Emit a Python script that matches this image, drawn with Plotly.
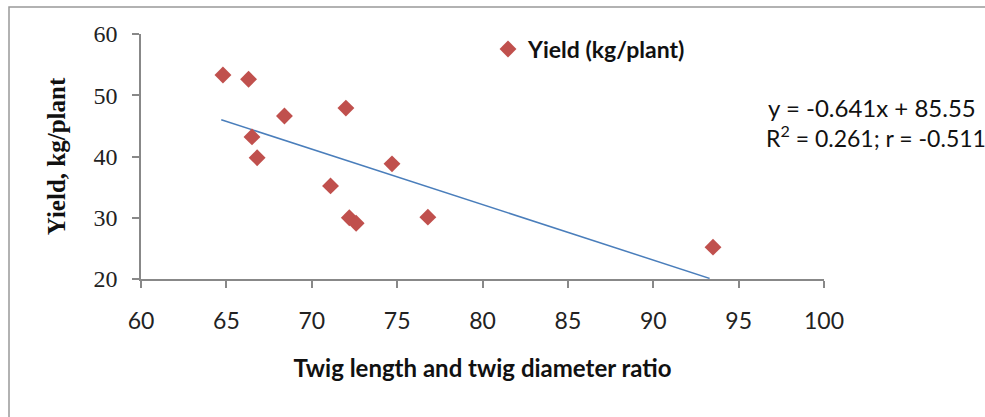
import plotly.graph_objects as go

# Data
ratio = [64.8, 66.3, 66.5, 66.8, 68.4, 72.0, 71.1, 72.2, 72.6, 74.7, 76.8, 93.5]
yield_kg = [53.3, 52.6, 43.2, 39.8, 46.6, 47.9, 35.2, 30.0, 29.1, 38.8, 30.1, 25.2]
trend_x = [64.7, 93.3]
trend_y = [46.0, 20.1]
x_ticks = [60, 65, 70, 75, 80, 85, 90, 95, 100]
y_ticks = [20, 30, 40, 50, 60]

W, H = 985, 417
L, T = 141, 34
pw, ph = 683, 245
R, B = W - L - pw, H - T - ph

def px_x(p):
    return (p - L) / pw

def px_y(p):
    return (T + ph - p) / ph

fig = go.Figure()
fig.add_trace(go.Scatter(
    x=trend_x, y=trend_y, mode="lines",
    line=dict(color="#4a7ebb", width=1.5),
    showlegend=False, hoverinfo="skip"))
fig.add_trace(go.Scatter(
    x=ratio, y=yield_kg, mode="markers", name="<b>Yield (kg/plant)</b>",
    marker=dict(symbol="diamond", size=13, color="#c0504d")))

axis_col = "#888888"
fig.update_layout(
    width=W, height=H,
    margin=dict(l=L, r=R, t=T, b=B, pad=0, autoexpand=False),
    paper_bgcolor="white", plot_bgcolor="white",
    xaxis=dict(range=[60, 100], tickvals=x_ticks, showgrid=False, zeroline=False,
               showline=True, linecolor=axis_col, linewidth=1.5, automargin=False,
               ticks="outside", ticklen=7, tickcolor=axis_col, tickwidth=1.5,
               ticklabelstandoff=14,
               tickfont=dict(family="Lato", size=23, color="#222222"),
               title=dict(text="<b>Twig length and twig diameter ratio</b>",
                          font=dict(family="Lato", size=24, color="#111111"),
                          standoff=27)),
    yaxis=dict(range=[20, 60], tickvals=y_ticks, showgrid=False, zeroline=False,
               showline=True, linecolor=axis_col, linewidth=1.5, automargin=False,
               ticks="outside", ticklen=7, tickcolor=axis_col, tickwidth=1.5,
               ticklabelstandoff=10,
               tickfont=dict(family="Liberation Serif", size=24, color="#222222"),
               title=dict(text="<b>Yield, kg/plant</b>",
                          font=dict(family="Liberation Serif", size=25, color="#111111"),
                          standoff=21)),
    legend=dict(x=px_x(488), y=px_y(49), xanchor="left", yanchor="middle",
                font=dict(family="Lato", size=23, color="#111111"),
                bgcolor="rgba(0,0,0,0)", itemwidth=30),
    shapes=[dict(type="rect", xref="paper", yref="paper",
                 x0=px_x(9), x1=px_x(1000), y0=px_y(440), y1=px_y(7),
                 line=dict(color="#999999", width=1.5), layer="below")],
    annotations=[
        dict(xref="paper", yref="paper", x=px_x(872), y=px_y(107),
             xanchor="center", yanchor="middle", showarrow=False,
             text="y = -0.641x + 85.55",
             font=dict(family="Lato", size=24, color="#111111")),
        dict(xref="paper", yref="paper", x=px_x(876), y=px_y(136),
             xanchor="center", yanchor="middle", showarrow=False,
             text="R<sup>2</sup> = 0.261; r = -0.511",
             font=dict(family="Lato", size=23, color="#111111")),
    ],
)

fig.write_html("out.html", config={"displayModeBar": False},
               post_script="document.body.style.margin='0';document.body.style.overflow='hidden';")
